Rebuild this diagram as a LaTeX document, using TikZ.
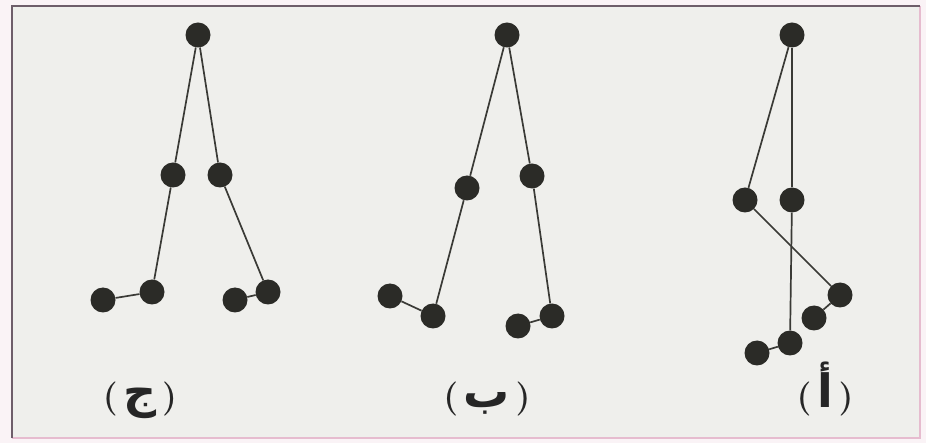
\documentclass[tikz,border=0pt]{standalone}
\usepackage{fontspec}
\newfontfamily\arabicfont[Script=Arabic,Scale=1.35]{DejaVu Sans}
\definecolor{bgpaper}{HTML}{FAF3F6}
\definecolor{bginner}{HTML}{EFEFEC}
\definecolor{framedark}{HTML}{6E5E6A}
\definecolor{framepink}{HTML}{E6BCCF}
\definecolor{ball}{HTML}{2B2B27}
\definecolor{rod}{HTML}{3A3A36}
\tikzset{
  atom/.style={circle, fill=ball, minimum size=25pt, inner sep=0pt},
  bond/.style={draw=rod, line width=1.7pt},
  lbl/.style={font=\fontsize{34}{38}\selectfont\bfseries, text=black!85, inner sep=0pt, anchor=base},
}
\begin{document}
\begin{tikzpicture}[x=1pt,y=-1pt]
\useasboundingbox (0,0) rectangle (926,443);
\fill[bgpaper] (0,0) rectangle (926,443);
\fill[bginner] (12,6) rectangle (920,438);
\draw[framepink, line width=1.5pt] (920,6) -- (920,438) -- (12,438);
\draw[framedark, line width=1.8pt] (12,438) -- (12,6) -- (920,6);

% group (j) left
\node[atom] (j0) at (198,35) {};
\node[atom] (j1) at (173,175) {};
\node[atom] (j2) at (220,175) {};
\node[atom] (j3) at (152,292) {};
\node[atom] (j4) at (103,300) {};
\node[atom] (j5) at (268,292) {};
\node[atom] (j6) at (235,300) {};
\draw[bond] (j0) -- (j1);
\draw[bond] (j0) -- (j2);
\draw[bond] (j1) -- (j3);
\draw[bond] (j3) -- (j4);
\draw[bond] (j2) -- (j5);
\draw[bond] (j5) -- (j6);

% group (b) middle
\node[atom] (b0) at (507,35) {};
\node[atom] (b1) at (467,188) {};
\node[atom] (b2) at (532,176) {};
\node[atom] (b3) at (433,316) {};
\node[atom] (b4) at (390,296) {};
\node[atom] (b5) at (552,316) {};
\node[atom] (b6) at (518,326) {};
\draw[bond] (b0) -- (b1);
\draw[bond] (b0) -- (b2);
\draw[bond] (b1) -- (b3);
\draw[bond] (b3) -- (b4);
\draw[bond] (b2) -- (b5);
\draw[bond] (b5) -- (b6);

% group (a) right
\node[atom] (a0) at (792,35) {};
\node[atom] (a1) at (745,200) {};
\node[atom] (a2) at (792,200) {};
\node[atom] (a3) at (840,295) {};
\node[atom] (a4) at (814,318) {};
\node[atom] (a5) at (790,343) {};
\node[atom] (a6) at (757,353) {};
\draw[bond] (a0) -- (a1);
\draw[bond] (a0) -- (a2);
\draw[bond] (a1) -- (a3);
\draw[bond] (a3) -- (a4);
\draw[bond] (a2) -- (a5);
\draw[bond] (a5) -- (a6);

% labels
\node[lbl] (lj) at (140,407) {(\,{\arabicfont ج}\,)};
\node[lbl] (lb) at (487,407) {(\,{\arabicfont ب}\,)};
\node[lbl] (la) at (825,407) {(\,{\arabicfont أ}\,)};
\end{tikzpicture}
\end{document}
